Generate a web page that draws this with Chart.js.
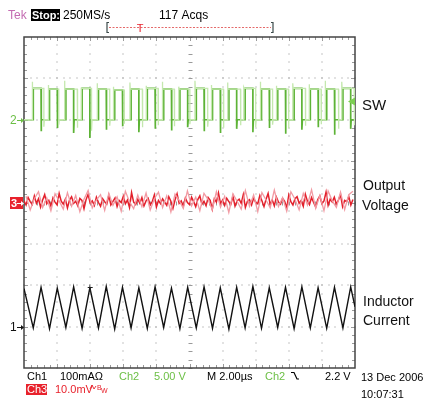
<!DOCTYPE html>
<html>
<head>
<meta charset="utf-8">
<script src="https://cdn.jsdelivr.net/npm/chart.js@4/dist/chart.umd.min.js"></script>
<style>
  html, body { margin: 0; padding: 0; background: #ffffff; }
  #wrap { width: 425px; height: 402px; }
</style>
</head>
<body>
<div id="wrap"><canvas id="scope" width="425" height="402"></canvas></div>
<script>
// ---------------- data ----------------
// Time base: 2.00 µs/div, 10 divisions -> 0..20 µs ; vertical: 8 divisions (-4..4)
const timeSpanUs = [0, 20];
const divRange = [-4, 4];

// Channel settings: [reference position in divisions, units per division]
const ch1Setup = { offsetDiv: -3, perDiv: 100 };   // inductor current, mA
const ch2Setup = { offsetDiv: 2,  perDiv: 5 };     // SW node, V
const ch3Setup = { offsetDiv: 0,  perDiv: 10 };    // output voltage ripple, mV
const trigLevelV = 2.2;

// SW node (Ch2) — main acquisition
const swRiseUs = [0.56,1.54,2.53,3.51,4.50,5.48,6.47,7.45,8.44,9.42,10.41,11.39,12.38,13.36,14.35,15.33,16.32,17.30,18.29,19.27];
const swFallUs = [1.03,2.01,3.00,3.98,4.97,5.95,6.94,7.92,8.91,9.89,10.88,11.86,12.85,13.83,14.82,15.80,16.79,17.77,18.76,19.74];
const swHighV  = [3.8,3.7,3.7,3.8,3.7,3.6,3.7,3.8,3.7,3.7,3.8,3.7,3.7,3.8,3.7,3.7,3.8,3.7,3.7,3.8];
const swUnderV = [-1.4,-1.0,-1.6,-2.2,-1.2,-0.8,-1.5,-1.1,-1.3,-0.9,-1.4,-1.6,-1.1,-1.5,-1.0,-1.7,-1.2,-0.9,-1.8,-1.1];
const swLowV = 0;
// SW node — persistence (lighter) acquisition
const swGhostRiseUs = [0.50,1.47,2.45,3.45,4.42,5.40,6.40,7.38,8.36,9.35,10.33,11.32,12.30,13.28,14.28,15.25,16.24,17.23,18.20,19.20];
const swGhostFallUs = [1.20,2.10,3.22,4.08,5.18,6.05,7.15,8.10,9.08,10.02,11.10,12.05,13.08,14.00,15.02,15.98,17.00,17.95,19.00,19.95];
const swGhostSpikeV = [4.6,4.2,4.7,3.9,4.4,4.0,4.5,4.1,4.6,4.0,4.7,4.2,4.5,3.9,4.6,4.1,4.4,4.3,4.7,4.6];

// Inductor current (Ch1): valleys at SW rising edges, peaks at SW falling edges
const ilStartMa = 92, ilEndMa = 48;
const ilValleyMa = [-3,-5,-2,-4,-3,-6,-3,-4,-2,-5,-3,-4,-6,-3,-4,-2,-5,-3,-4,-3];
const ilPeakMa   = [95,93,96,94,97,95,94,96,93,95,96,94,95,97,94,95,96,94,95,96];

// Output voltage ripple (Ch3), mV, sampled every 0.125 µs
const ch3MainMv = [
 0.4,-0.6,1.2,0.2,-0.5,1.6,-0.2,0.9,-1.1,0.6,
 1.9,-0.3,0.5,-0.9,1.1,0.1,-0.6,2.2,0.3,-0.4,
 0.8,-1.3,0.6,1.4,-0.2,0.3,-0.8,1.0,0.5,-1.5,
 0.7,2.0,-0.1,0.4,-0.7,1.3,0.0,-0.9,0.9,0.2,
 -0.4,1.7,-0.6,0.3,1.1,-1.0,0.5,0.0,1.5,-0.3,
 0.6,-1.2,2.4,0.1,-0.5,0.8,-0.2,1.2,-0.8,0.4,
 1.0,-0.6,0.2,1.8,-1.1,0.5,-0.3,0.9,0.1,-0.7,
 1.4,0.3,-1.4,0.6,2.1,-0.2,0.4,-0.9,1.1,0.0,
 -0.5,1.3,0.2,-1.0,0.7,1.6,-0.4,0.3,-0.8,1.2,
 0.5,-1.6,0.9,0.1,2.3,-0.3,0.6,-0.7,1.0,0.2,
 -0.4,1.5,-0.9,0.4,0.8,-0.2,1.9,-1.2,0.3,0.7,
 -0.6,1.1,0.0,-0.3,1.7,0.4,-1.0,0.8,2.2,-0.5,
 0.6,-0.8,1.3,0.1,-0.4,1.0,0.3,-1.3,1.8,0.2,
 -0.6,0.9,1.4,-0.2,0.5,-0.9,2.0,0.3,-0.5,1.2,
 0.0,-1.1,0.7,1.6,-0.3,0.4,2.5,-0.7,0.8,0.1,
 1.3,-0.4,0.6,1.9,-1.0,0.5,0.2,1.4,-0.6,0.7
];
// Ch3 persistence (lighter), mV, sampled every 0.25 µs
const ch3GhostMv = [
 1.5,-1.8,0.9,2.6,-1.2,1.1,-2.0,2.1,0.4,-1.6,
 2.4,-0.9,1.7,-2.2,0.8,2.9,-1.3,0.6,1.9,-1.9,
 2.2,-0.7,1.4,-2.1,2.7,0.2,-1.5,1.8,-1.0,2.3,
 -1.8,0.9,2.5,-1.2,1.6,-2.3,2.0,0.5,-1.4,2.8,
 -0.8,1.3,-2.0,2.2,0.7,-1.7,2.6,-1.1,1.5,-2.4,
 2.1,0.3,-1.6,2.9,-0.9,1.8,-2.2,2.4,0.6,-1.3,
 3.0,-1.0,1.2,-2.1,2.6,0.8,-1.8,2.2,-0.6,3.1,
 -1.4,1.7,-2.0,2.8,0.4,-1.2,2.5,-1.7,1.9,2.7
];

// ---------------- build traces ----------------
const toDiv = (setup, v) => setup.offsetDiv + v / setup.perDiv;

function swTrace(rise, fall, high, under) {
  const pts = [{ x: timeSpanUs[0], y: toDiv(ch2Setup, swLowV) }];
  for (let i = 0; i < rise.length; i++) {
    pts.push({ x: rise[i], y: toDiv(ch2Setup, swLowV) });
    pts.push({ x: rise[i], y: toDiv(ch2Setup, high[i]) });
    pts.push({ x: fall[i], y: toDiv(ch2Setup, high[i]) });
    pts.push({ x: fall[i], y: toDiv(ch2Setup, under[i]) });
    pts.push({ x: fall[i] + 0.03, y: toDiv(ch2Setup, swLowV) });
  }
  pts.push({ x: timeSpanUs[1], y: toDiv(ch2Setup, swLowV) });
  return pts;
}
const swMain = swTrace(swRiseUs, swFallUs, swHighV, swUnderV);

const swGhost = [{ x: timeSpanUs[0], y: toDiv(ch2Setup, swLowV) }];
for (let i = 0; i < swGhostRiseUs.length; i++) {
  swGhost.push({ x: swGhostRiseUs[i], y: toDiv(ch2Setup, swLowV) });
  swGhost.push({ x: swGhostRiseUs[i], y: toDiv(ch2Setup, swGhostSpikeV[i]) });
  swGhost.push({ x: swGhostRiseUs[i] + 0.02, y: toDiv(ch2Setup, swHighV[i]) });
  swGhost.push({ x: swGhostFallUs[i], y: toDiv(ch2Setup, swHighV[i]) });
  swGhost.push({ x: swGhostFallUs[i], y: toDiv(ch2Setup, swUnderV[i] * 0.6) });
  swGhost.push({ x: swGhostFallUs[i] + 0.03, y: toDiv(ch2Setup, swLowV) });
}
swGhost.push({ x: timeSpanUs[1], y: toDiv(ch2Setup, swLowV) });

const ilTrace = [{ x: timeSpanUs[0], y: toDiv(ch1Setup, ilStartMa) }];
for (let i = 0; i < swRiseUs.length; i++) {
  ilTrace.push({ x: swRiseUs[i], y: toDiv(ch1Setup, ilValleyMa[i]) });
  ilTrace.push({ x: swFallUs[i], y: toDiv(ch1Setup, ilPeakMa[i]) });
}
ilTrace.push({ x: timeSpanUs[1], y: toDiv(ch1Setup, ilEndMa) });

const mainStep = (timeSpanUs[1] - timeSpanUs[0]) / ch3MainMv.length;
const ghostStep = (timeSpanUs[1] - timeSpanUs[0]) / ch3GhostMv.length;
const ch3Main = ch3MainMv.map((v, i) => ({ x: i * mainStep, y: toDiv(ch3Setup, v) }));
const ch3Ghost = ch3GhostMv.map((v, i) => ({ x: i * ghostStep + ghostStep / 2, y: toDiv(ch3Setup, v) }));

// ---------------- plugins ----------------
const GREEN_T = '#6cbf45', RED_T = '#e8222c';
const font = (px, w) => (w || '') + ' ' + px + 'px "Liberation Sans", Arial, sans-serif';

const graticule = {
  id: 'graticule',
  beforeDatasetsDraw(chart) {
    const { ctx, chartArea: a, scales: { x, y } } = chart;
    ctx.save();
    // dotted division lines
    ctx.fillStyle = '#8a8a8a';
    for (let d = 1; d < 10; d++) {
      if (d === 5) continue;
      const px = x.getPixelForValue(d * 2);
      for (let m = 0; m <= 40; m++) {
        const py = y.getPixelForValue(divRange[0] + m * 0.2);
        ctx.fillRect(Math.round(px) - 0.5, Math.round(py) - 0.5, 1, 1);
      }
    }
    for (let d = -3; d <= 3; d++) {
      if (d === 0) continue;
      const py = y.getPixelForValue(d);
      for (let m = 0; m <= 50; m++) {
        const px = x.getPixelForValue(m * 0.4);
        ctx.fillRect(Math.round(px) - 0.5, Math.round(py) - 0.5, 1, 1);
      }
    }
    // center cross with minor ticks
    ctx.strokeStyle = '#9a9a9a';
    ctx.lineWidth = 1;
    const cx = Math.round(x.getPixelForValue(10)) + 0.5;
    const cy = Math.round(y.getPixelForValue(0)) + 0.5;
    ctx.beginPath();
    for (let m = 0; m <= 40; m++) {
      const py = Math.round(y.getPixelForValue(divRange[0] + m * 0.2)) + 0.5;
      ctx.moveTo(cx - 2, py); ctx.lineTo(cx + 2, py);
      ctx.moveTo(cx, py - 0.5); ctx.lineTo(cx, py + 0.5);
    }
    for (let m = 0; m <= 50; m++) {
      const px = Math.round(x.getPixelForValue(m * 0.4)) + 0.5;
      ctx.moveTo(px, cy - 2); ctx.lineTo(px, cy + 2);
      ctx.moveTo(px - 0.5, cy); ctx.lineTo(px + 0.5, cy);
    }
    // border ticks
    for (let m = 1; m < 50; m++) {
      const px = Math.round(x.getPixelForValue(m * 0.4)) + 0.5;
      const len = (m % 5 === 0) ? 4 : 3;
      ctx.moveTo(px, a.top); ctx.lineTo(px, a.top + len);
      ctx.moveTo(px, a.bottom); ctx.lineTo(px, a.bottom - len);
    }
    for (let m = 1; m < 40; m++) {
      const py = Math.round(y.getPixelForValue(divRange[0] + m * 0.2)) + 0.5;
      const len = (m % 5 === 0) ? 4 : 3;
      ctx.moveTo(a.left, py); ctx.lineTo(a.left + len, py);
      ctx.moveTo(a.right, py); ctx.lineTo(a.right - len, py);
    }
    ctx.stroke();
    // frame
    ctx.strokeStyle = '#444';
    ctx.lineWidth = 1.5;
    ctx.strokeRect(a.left, a.top, a.right - a.left, a.bottom - a.top);
    ctx.restore();
  }
};

const annotations = {
  id: 'annotations',
  afterDraw(chart) {
    const { ctx, chartArea: a, scales: { x, y } } = chart;
    ctx.save();
    ctx.textBaseline = 'alphabetic';
    ctx.textAlign = 'left';

    // ---- header ----
    ctx.font = font(12);
    ctx.fillStyle = '#c46cb2';
    ctx.fillText('Tek', 8, 19);
    ctx.fillStyle = '#000';
    ctx.fillRect(31, 9, 29, 12);
    ctx.fillStyle = '#fff';
    ctx.font = font(11.5, 'bold');
    ctx.fillText('Stop:', 32, 19, 28);
    ctx.fillStyle = '#000';
    ctx.font = font(12);
    ctx.fillText('250MS/s', 63, 19);
    ctx.fillText('117 Acqs', 159, 19);

    // record view bar
    ctx.strokeStyle = '#e46a6a';
    ctx.lineWidth = 1;
    ctx.setLineDash([2, 1.5]);
    ctx.beginPath();
    ctx.moveTo(109, 27.5); ctx.lineTo(271, 27.5);
    ctx.stroke();
    ctx.setLineDash([]);
    ctx.strokeStyle = '#3d4b4b';
    ctx.lineWidth = 1.2;
    ctx.beginPath();
    ctx.moveTo(109, 22.5); ctx.lineTo(107, 22.5); ctx.lineTo(107, 32.5); ctx.lineTo(109, 32.5);
    ctx.moveTo(271, 22.5); ctx.lineTo(273, 22.5); ctx.lineTo(273, 32.5); ctx.lineTo(271, 32.5);
    ctx.stroke();
    ctx.fillStyle = RED_T;
    ctx.font = font(11);
    ctx.textAlign = 'center';
    ctx.fillText('T', 140, 32);
    ctx.textAlign = 'left';

    // ---- channel reference markers (left) ----
    const arrow = (x0, yv, color) => {
      ctx.strokeStyle = color; ctx.fillStyle = color; ctx.lineWidth = 1;
      ctx.beginPath(); ctx.moveTo(x0, yv + 0.5); ctx.lineTo(x0 + 5, yv + 0.5); ctx.stroke();
      ctx.beginPath(); ctx.moveTo(x0 + 7, yv + 0.5); ctx.lineTo(x0 + 4, yv - 2); ctx.lineTo(x0 + 4, yv + 3); ctx.closePath(); ctx.fill();
    };
    const y2 = Math.round(y.getPixelForValue(ch2Setup.offsetDiv));
    ctx.font = font(12);
    ctx.fillStyle = GREEN_T;
    ctx.fillText('2', 10, y2 + 4);
    arrow(17, y2, GREEN_T);

    const y3 = Math.round(y.getPixelForValue(ch3Setup.offsetDiv));
    ctx.fillStyle = RED_T;
    ctx.fillRect(10, y3 - 6, 13, 12);
    ctx.fillStyle = '#fff';
    ctx.font = font(11, 'bold');
    ctx.fillText('3', 11, y3 + 4);
    arrow(17, y3, '#fff');

    const y1 = Math.round(y.getPixelForValue(ch1Setup.offsetDiv));
    ctx.fillStyle = '#111';
    ctx.font = font(12);
    ctx.fillText('1', 10, y1 + 4);
    arrow(17, y1, '#111');

    // trigger level marker (right edge)
    const yt = y.getPixelForValue(toDiv(ch2Setup, trigLevelV));
    ctx.fillStyle = '#7ccf52';
    ctx.beginPath();
    ctx.moveTo(a.right - 7, yt); ctx.lineTo(a.right, yt - 4); ctx.lineTo(a.right, yt + 4); ctx.closePath();
    ctx.fill();

    // trigger position marker on the screen
    const xtr = x.getPixelForValue(4);
    ctx.strokeStyle = '#222'; ctx.lineWidth = 1.2;
    ctx.beginPath();
    ctx.moveTo(xtr - 2.5, 287.5); ctx.lineTo(xtr + 2.5, 287.5);
    ctx.moveTo(xtr, 287.5); ctx.lineTo(xtr, 292);
    ctx.stroke();

    // ---- right side labels ----
    ctx.fillStyle = '#111';
    ctx.font = font(15);
    ctx.fillText('SW', 362, 110);
    ctx.font = font(14);
    ctx.fillText('Output', 363, 190);
    ctx.fillText('Voltage', 362, 210);
    ctx.fillText('Inductor', 363, 306);
    ctx.fillText('Current', 363, 325);

    // ---- footer ----
    ctx.font = font(11);
    ctx.fillStyle = '#000';
    ctx.fillText('Ch1', 27, 380);
    ctx.fillText('100mAΩ', 60, 380);
    ctx.fillStyle = GREEN_T;
    ctx.fillText('Ch2', 119, 380);
    ctx.fillText('5.00 V', 154, 380);
    ctx.fillStyle = '#000';
    ctx.fillText('M 2.00µs', 207, 380);
    ctx.fillStyle = GREEN_T;
    ctx.fillText('Ch2', 265, 380);
    // falling-slope trigger icon
    ctx.strokeStyle = '#000'; ctx.lineWidth = 1.2;
    ctx.beginPath();
    ctx.moveTo(291, 372.5); ctx.lineTo(294, 372.5); ctx.lineTo(297, 379); ctx.lineTo(299, 379);
    ctx.stroke();
    ctx.fillStyle = '#000';
    ctx.fillText('2.2 V', 325, 380);
    ctx.fillText('13 Dec 2006', 361, 381);
    ctx.fillText('10:07:31', 361, 398);

    ctx.fillStyle = RED_T;
    ctx.fillRect(26, 384, 21, 11);
    ctx.fillStyle = '#fff';
    ctx.fillText('Ch3', 27, 393);
    ctx.fillStyle = RED_T;
    ctx.fillText('10.0mV', 55, 393);
    // bandwidth-limit icon
    ctx.strokeStyle = RED_T; ctx.lineWidth = 0.9;
    ctx.beginPath();
    ctx.moveTo(90, 389); ctx.lineTo(92, 385); ctx.lineTo(94, 389); ctx.lineTo(96, 386);
    ctx.stroke();
    ctx.font = font(7);
    ctx.fillStyle = RED_T;
    ctx.fillText('B', 97, 390);
    ctx.fillText('W', 101, 393);
    ctx.restore();
  }
};

// ---------------- chart ----------------
new Chart(document.getElementById('scope'), {
  type: 'scatter',
  data: {
    datasets: [
      { label: 'Ch2 persistence', data: swGhost, showLine: true, borderColor: '#c4e8ae', borderWidth: 1.3, pointRadius: 0, tension: 0 },
      { label: 'SW', data: swMain, showLine: true, borderColor: '#5db336', borderWidth: 1.7, pointRadius: 0, tension: 0 },
      { label: 'Ch3 persistence', data: ch3Ghost, showLine: true, borderColor: '#f29aa3', borderWidth: 1.3, pointRadius: 0, tension: 0 },
      { label: 'Output Voltage', data: ch3Main, showLine: true, borderColor: '#e3202b', borderWidth: 1.5, pointRadius: 0, tension: 0 },
      { label: 'Inductor Current', data: ilTrace, showLine: true, borderColor: '#111111', borderWidth: 1.4, pointRadius: 0, tension: 0 }
    ]
  },
  options: {
    responsive: false,
    animation: false,
    devicePixelRatio: 1,
    layout: { padding: { left: 24, right: 70, top: 37, bottom: 34 } },
    plugins: { legend: { display: false }, tooltip: { enabled: false }, title: { display: false } },
    scales: {
      x: { type: 'linear', min: timeSpanUs[0], max: timeSpanUs[1], display: false },
      y: { type: 'linear', min: divRange[0], max: divRange[1], display: false }
    }
  },
  plugins: [graticule, annotations]
});
</script>
</body>
</html>
